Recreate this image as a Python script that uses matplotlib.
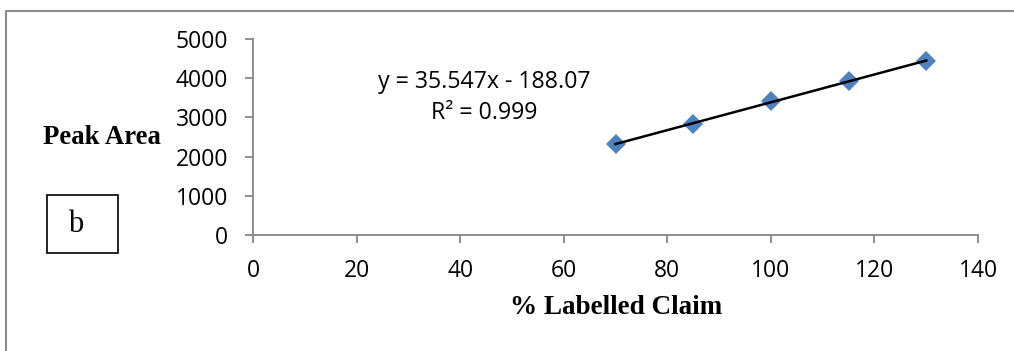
import numpy as np
import matplotlib
matplotlib.use("Agg")
import matplotlib.pyplot as plt
from matplotlib.lines import Line2D
from matplotlib.patches import Rectangle

# data
claim = [70, 85, 100, 115, 130]
area = [2330, 2820, 3410, 3925, 4440]
xticks = [0, 20, 40, 60, 80, 100, 120, 140]
yticks = [0, 1000, 2000, 3000, 4000, 5000]
eq_text = "y = 35.547x - 188.07"
r2_text = "R\u00b2 = 0.999"

W, H = 1014, 351
fig = plt.figure(figsize=(W / 100, H / 100), dpi=100)

ax = fig.add_axes([253 / W, 1 - 235 / H, (978 - 253) / W, (235 - 39) / H])

# linear trend line
k, b = np.polyfit(claim, area, 1)
xs = np.array([min(claim), max(claim)])
ax.plot(claim, area, 'D', color='#4F81BD', ms=10, mew=0, zorder=2)
ax.plot(xs, k * xs + b, color='black', lw=1.8, zorder=3)

ax.set_xlim(0, 140)
ax.set_ylim(0, 5000)
ax.set_xticks(xticks)
ax.set_yticks(yticks)

tickfont = {'family': 'Open Sans', 'size': 16.5}
ax.set_xticklabels([str(t) for t in xticks], fontdict=tickfont)
ax.set_yticklabels([str(t) for t in yticks], fontdict=tickfont)

for s in ['top', 'right']:
    ax.spines[s].set_visible(False)
for s in ['left', 'bottom']:
    ax.spines[s].set_color('#868686')
    ax.spines[s].set_linewidth(1.3)
ax.tick_params(colors='#868686', labelcolor='black', length=6, width=1.3, direction='out')
ax.tick_params(axis='x', pad=11)
ax.tick_params(axis='y', pad=12)

ax.text(484 / W, 1 - 82 / H, eq_text, transform=fig.transFigure, ha='center', va='center',
        family='Open Sans', fontsize=16.7)
ax.text(484 / W, 1 - 113 / H, r2_text, transform=fig.transFigure, ha='center', va='center',
        family='Open Sans', fontsize=16.7)

fig.text(102 / W, 1 - 138 / H, "Peak Area", ha='center', va='center',
         family='Liberation Serif', fontweight='bold', fontsize=19.3)
fig.text(616 / W, 1 - 307 / H, "% Labelled Claim", ha='center', va='center',
         family='Liberation Serif', fontweight='bold', fontsize=19.5)

# the "b" panel label box
fig.patches.append(Rectangle((47 / W, 1 - 253 / H), 71 / W, 58 / H, transform=fig.transFigure,
                             fill=False, edgecolor='black', lw=1.2))
fig.text(76 / W, 1 - 225 / H, "b", ha='center', va='center',
         family='Liberation Serif', fontsize=22)

# outer frame (only left and top visible)
fig.lines.append(Line2D([5.5 / W, 5.5 / W, 1.0], [0.0, 1 - 10.5 / H, 1 - 10.5 / H],
                        transform=fig.transFigure, color='#8c8c8c', lw=1.5))

fig.savefig('out.png', dpi=100)
